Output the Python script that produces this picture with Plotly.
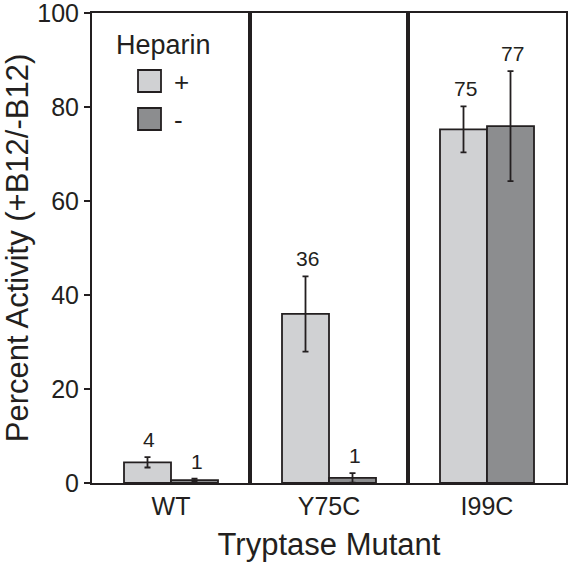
import plotly.graph_objects as go

categories = ["WT", "Y75C", "I99C"]
series_names = ["+", "-"]
plus_vals = [4.4, 36.0, 75.3]
plus_err = [1.1, 8.0, 4.9]
plus_labels = ["4", "36", "75"]
minus_vals = [0.6, 1.1, 76.0]
minus_err = [0.3, 1.0, 11.7]
minus_labels = ["1", "1", "77"]
y_ticks = [0, 20, 40, 60, 80, 100]

LIGHT = "#d0d1d3"
DARK = "#8c8d8f"
INK = "#231f20"
FONT = "Liberation Sans, Arial, sans-serif"

W, H = 568, 565
ML, MR, MT, MB = 92, 2, 13, 82
BARGAP = 0.405

fig = go.Figure()
for name, vals, errs, col in [(series_names[0], plus_vals, plus_err, LIGHT),
                              (series_names[1], minus_vals, minus_err, DARK)]:
    fig.add_trace(go.Bar(
        x=categories, y=vals, name=name,
        marker=dict(color=col, line=dict(color=INK, width=1.8)),
        error_y=dict(type="data", array=errs, visible=True, color=INK,
                     thickness=1.8, width=3),
        showlegend=False,
    ))

# value labels above error bars
cat_px = (W - ML - MR) / len(categories)
bar_px = (1 - BARGAP) * cat_px / 2
annotations = []
for vals, errs, labs, sign in [(plus_vals, plus_err, plus_labels, -1),
                               (minus_vals, minus_err, minus_labels, 1)]:
    for c, v, e, t in zip(categories, vals, errs, labs):
        annotations.append(dict(
            x=c, y=v + e, xref="x", yref="y", text=t, showarrow=False,
            xshift=sign * bar_px / 2 + 2, yshift=4, yanchor="bottom",
            font=dict(size=21, color=INK, family=FONT)))

# manual legend
pw, ph = W - ML - MR, H - MT - MB
def px_x(x):
    return (x - ML) / pw
def px_y(y):
    return (H - MB - y) / ph

annotations.append(dict(x=px_x(114), y=px_y(45), xref="paper", yref="paper",
                         text="Heparin", showarrow=False, xanchor="left",
                         yanchor="middle",
                         font=dict(size=27, color=INK, family=FONT)))
shapes = []
for (top, bot), col, name in [((70, 92), LIGHT, series_names[0]),
                              ((108, 130), DARK, series_names[1])]:
    shapes.append(dict(type="rect", xref="paper", yref="paper",
                       x0=px_x(138), x1=px_x(161), y0=px_y(bot), y1=px_y(top),
                       fillcolor=col, line=dict(color=INK, width=1.8)))
    annotations.append(dict(x=px_x(172), y=px_y((top + bot) / 2 + 1),
                            xref="paper", yref="paper", text=name,
                            showarrow=False, xanchor="left", yanchor="middle",
                            font=dict(size=26, color=INK, family=FONT)))

# panel dividers between categories
for i in range(len(categories) - 1):
    shapes.append(dict(type="line", xref="x", yref="paper",
                       x0=i + 0.5, x1=i + 0.5, y0=0, y1=1,
                       line=dict(color=INK, width=4)))

fig.update_layout(
    width=W, height=H,
    margin=dict(l=ML, r=MR, t=MT, b=MB),
    paper_bgcolor="white", plot_bgcolor="white",
    barmode="group", bargap=BARGAP, bargroupgap=0,
    font=dict(family=FONT, color=INK),
    annotations=annotations, shapes=shapes,
    xaxis=dict(showline=True, linecolor=INK, linewidth=2, mirror=True,
               automargin=False,
               ticks="", showgrid=False, tickfont=dict(size=25, color=INK),
               title=dict(text="Tryptase Mutant", font=dict(size=31, color=INK),
                          standoff=14)),
    yaxis=dict(range=[0, 100.1], tickvals=y_ticks, showline=True, linecolor=INK,
               automargin=False, ticklabeloverflow="allow",
               linewidth=2, mirror=True, ticks="outside", ticklen=6,
               tickwidth=1.8, tickcolor=INK, showgrid=False, zeroline=False,
               tickfont=dict(size=25, color=INK),
               title=dict(text="Percent Activity (+B12/-B12)",
                          font=dict(size=31, color=INK), standoff=6)),
)

fig.write_html("out.html", config={"displayModeBar": False},
               post_script="document.body.style.margin='0';document.body.style.overflow='hidden';")
